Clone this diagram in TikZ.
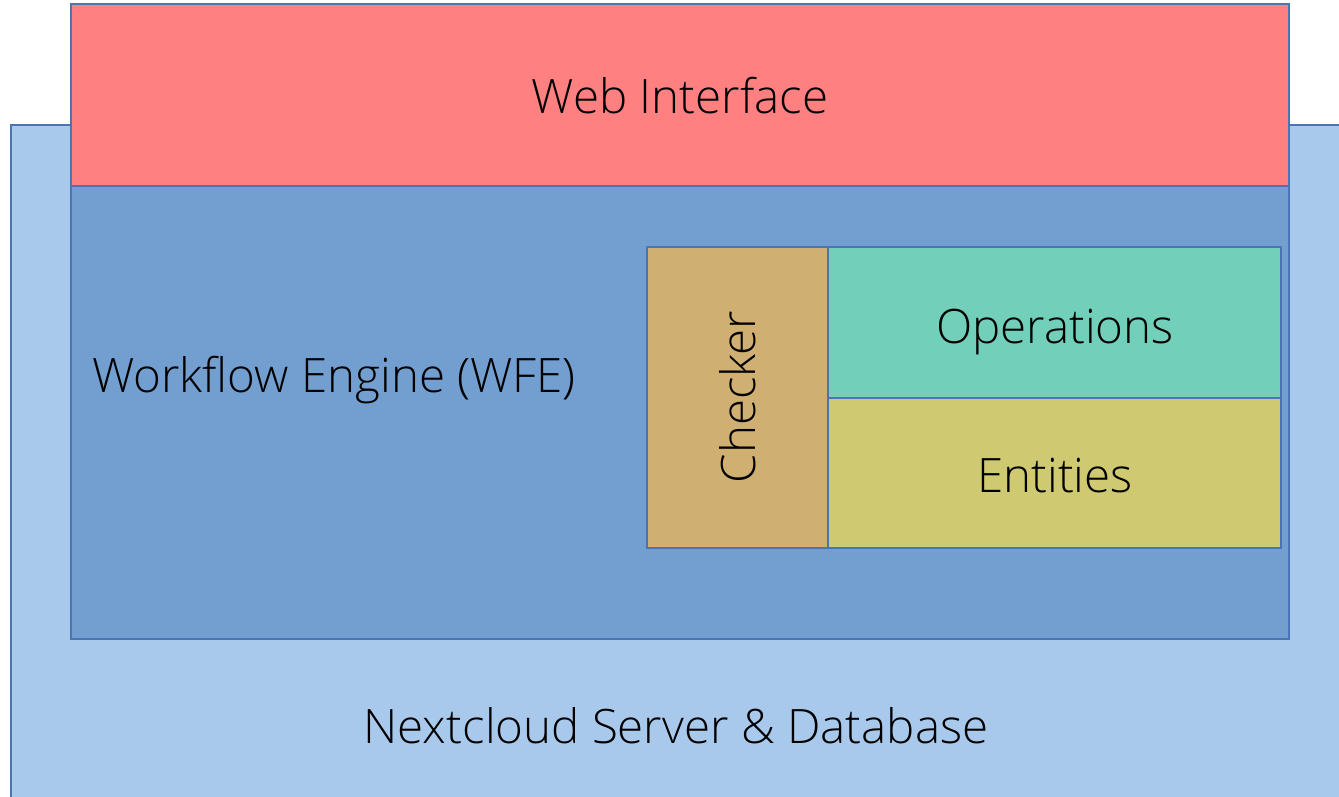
\documentclass[tikz,border=0pt]{standalone}
\usepackage{fontspec}
\IfFontExistsTF{Open Sans Light}{\setmainfont{Open Sans Light}}{\setmainfont{Open Sans}}
\colorlet{srvblue}{rgb,255:red,169;green,201;blue,236}
\colorlet{wfeblue}{rgb,255:red,114;green,159;blue,207}
\colorlet{webred}{rgb,255:red,255;green,128;blue,128}
\colorlet{chk}{rgb,255:red,207;green,175;blue,114}
\colorlet{ops}{rgb,255:red,114;green,207;blue,185}
\colorlet{ent}{rgb,255:red,207;green,202;blue,114}
\colorlet{edge}{rgb,255:red,74;green,116;blue,180}
\tikzset{
    layer/.style={draw=edge,line width=0.6pt},
    txt/.style={inner sep=0pt,font=\fontsize{27}{32}\selectfont}
}

\begin{document}
\begin{tikzpicture}[x=0.02cm,y=-0.02cm]
        \useasboundingbox (0,0) rectangle (1339,797);
        \draw [layer,fill=srvblue] (11,125) rectangle (1350,810);
        \draw [layer,fill=webred] (71,4) rectangle (1289,186);
        \draw [layer,fill=wfeblue] (71,186) rectangle (1289,639);
        \draw [layer,fill=chk] (647,247) rectangle (828,548);
        \draw [layer,fill=ops] (828,247) rectangle (1281,398);
        \draw [layer,fill=ent] (828,398) rectangle (1281,548);
        \node [txt] (web) at (680,96) {Web Interface};
        \node [txt,anchor=base west] (wfe) at (92,392) {Workflow Engine (WFE)};
        \node [txt,rotate=90] (checker) at (738,397) {Checker};
        \node [txt,anchor=base] (operations) at (1055,343) {Operations};
        \node [txt,anchor=base] (entities) at (1055,492) {Entities};
        \node [txt,anchor=base] (server) at (676,743) {Nextcloud Server \& Database};
    \end{tikzpicture}
\end{document}
